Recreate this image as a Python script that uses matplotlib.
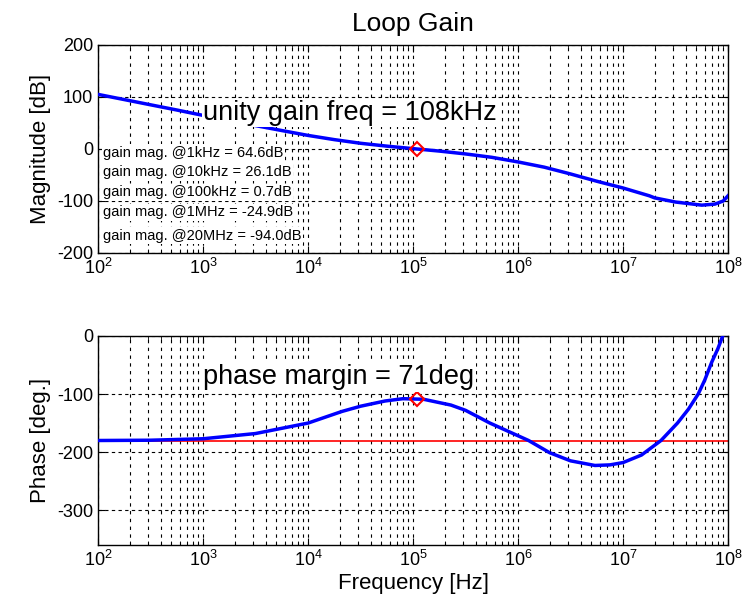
import matplotlib
matplotlib.use("Agg")
import matplotlib.pyplot as plt
from matplotlib.ticker import LogLocator, FixedLocator, NullFormatter

plt.rcParams['font.family'] = ['Liberation Sans', 'DejaVu Sans']
plt.rcParams['axes.unicode_minus'] = False

# magnitude
mag_f = [1e2, 1.78e2, 3.16e2, 5.62e2, 1e3, 1.78e3, 3.16e3, 5.62e3, 1e4, 1.78e4,
         3.16e4, 5.62e4, 1e5, 1.78e5, 3.16e5, 5.62e5, 1e6, 1.78e6, 3.16e6,
         5.62e6, 1e7, 1.78e7, 2e7, 3.16e7, 5.62e7, 7.5e7, 9e7, 1e8]
mag_db = [105, 95, 85, 75, 64.6, 55, 45, 35.5, 26.1, 18,
          11, 5.5, 0.7, -4, -9.5, -16, -24.9, -35, -48,
          -62, -75, -90, -94, -102, -108, -106, -100, -90]

# phase
ph_f = [1e2, 3.16e2, 1e3, 3.16e3, 1e4, 2.1e4, 3.16e4, 5.4e4, 8e4, 1.26e5,
        2.3e5, 3.16e5, 5.4e5, 1.26e6, 2e6, 3.16e6, 5.4e6, 7.5e6, 1e7, 1.5e7,
        2.3e7, 3.3e7, 4.2e7, 5.2e7, 6e7, 7e7, 8e7, 8.9e7]
ph_deg = [-180, -179.5, -177, -168, -150, -130, -121, -112, -108, -109,
          -119, -128, -150, -180, -201, -215, -223, -222, -218, -205,
          -180, -150, -126, -100, -76, -45, -22, 0]

ugf = 1.08e5
gm_at_ugf = 0
pm = 71
gain_lines = ["gain mag. @1kHz = 64.6dB", "gain mag. @10kHz = 26.1dB",
              "gain mag. @100kHz = 0.7dB", "gain mag. @1MHz = -24.9dB",
              "gain mag. @20MHz = -94.0dB"]
gain_y = [0.482, 0.388, 0.292, 0.196, 0.084]
decades = [1e2, 1e3, 1e4, 1e5, 1e6, 1e7, 1e8]

fig = plt.figure(figsize=(7.5, 6.13), dpi=100)
ax1 = fig.add_axes([0.1307, 0.5873, 0.84, 0.3393])
ax2 = fig.add_axes([0.1307, 0.1109, 0.84, 0.341])


def style(ax):
    ax.set_xscale('log')
    ax.set_xlim(1e2, 1e8)
    ax.xaxis.set_major_locator(FixedLocator(decades))
    ax.xaxis.set_minor_locator(LogLocator(base=10, subs=range(2, 10), numticks=20))
    ax.xaxis.set_minor_formatter(NullFormatter())
    ax.grid(True, which='both', axis='x', color='black', linestyle=(0, (3, 4)), linewidth=0.8)
    ax.grid(True, which='major', axis='y', color='black', linestyle=(0, (3, 3)), linewidth=0.8)
    ax.tick_params(which='both', direction='in', top=True, right=True, labelsize=13)
    ax.tick_params(which='major', length=5)
    ax.tick_params(which='minor', length=3)
    for s in ax.spines.values():
        s.set_linewidth(1.0)


style(ax1)
ax1.plot(mag_f, mag_db, color='blue', linewidth=2.5, zorder=3)
ax1.plot([ugf], [gm_at_ugf], marker='D', markersize=7, markerfacecolor='none',
         markeredgecolor='red', markeredgewidth=1.5, zorder=4)
ax1.set_ylim(-200, 200)
ax1.yaxis.set_major_locator(FixedLocator([-200, -100, 0, 100, 200]))
ax1.set_ylabel('Magnitude [dB]', fontsize=16, labelpad=4)
ax1.set_title('Loop Gain', fontsize=19, pad=10)
ax1.text(1.0e3, 69, 'unity gain freq = 108kHz', fontsize=19.5, va='center', ha='left',
         bbox=dict(facecolor='white', edgecolor='none', pad=1), zorder=5)
for s, yy in zip(gain_lines, gain_y):
    ax1.text(0.008, yy, s, transform=ax1.transAxes, fontsize=10.5,
             va='center', ha='left',
             bbox=dict(facecolor='white', edgecolor='none', pad=1), zorder=5)

style(ax2)
ax2.axhline(-180, color='red', linewidth=1.2, zorder=2)
ax2.plot(ph_f, ph_deg, color='blue', linewidth=2.5, zorder=3)
ax2.plot([ugf], [-180 + pm], marker='D', markersize=7, markerfacecolor='none',
         markeredgecolor='red', markeredgewidth=1.5, zorder=4)
ax2.set_ylim(-360, 0)
ax2.yaxis.set_major_locator(FixedLocator([-300, -200, -100, 0]))
ax2.set_ylabel('Phase [deg.]', fontsize=16, labelpad=4)
ax2.set_xlabel('Frequency [Hz]', fontsize=16, labelpad=2)
ax2.text(1.0e3, -71, 'phase margin = 71deg', fontsize=19.5, va='center', ha='left',
         bbox=dict(facecolor='white', edgecolor='none', pad=1), zorder=5)

fig.savefig('out.png', dpi=100)
